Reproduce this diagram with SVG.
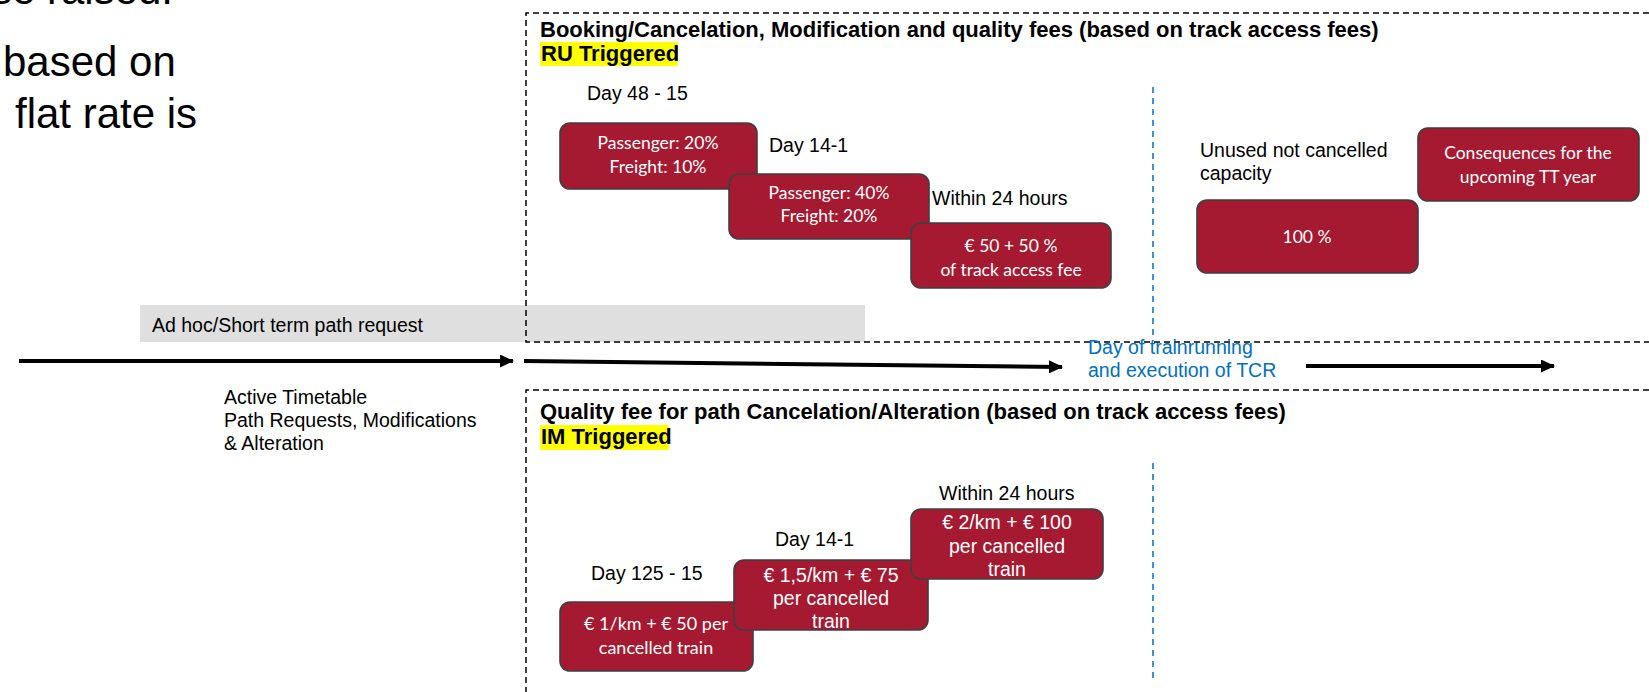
<svg xmlns="http://www.w3.org/2000/svg" width="1649" height="692" viewBox="0 0 1649 692">
<defs>
<style>
.bg{font-family:"Liberation Sans",Arial,sans-serif;fill:#000}
.big{font-size:42px}
.lbl{font-family:"Liberation Sans",Arial,sans-serif;font-size:19.5px;fill:#000}
.title{font-family:"Liberation Sans",Arial,sans-serif;font-size:22px;font-weight:bold;fill:#000}
.blue{font-family:"Liberation Sans",Arial,sans-serif;font-size:19.5px;fill:#0070C0}
.box{fill:#A51A31;stroke:#3F3F3F;stroke-width:1.6}
.wc{font-family:Lato,"Open Sans",sans-serif;font-size:17.5px;fill:#fff;text-anchor:middle}
.wa{font-family:"Liberation Sans",Arial,sans-serif;font-size:19.5px;fill:#fff;text-anchor:middle}
.dash{fill:none;stroke:#000;stroke-width:1.5;stroke-dasharray:6 4}
.bdash{fill:none;stroke:#0070C0;stroke-width:1.5;stroke-dasharray:6 5}
.arr{stroke:#000;stroke-width:4;fill:none;marker-end:url(#ah)}
.hl{fill:#FFFF00}
</style>
<marker id="ah" markerUnits="userSpaceOnUse" markerWidth="14" markerHeight="13" viewBox="0 0 14 13" refX="13" refY="6.5" orient="auto">
<path d="M0,0 L14,6.5 L0,13 z" fill="#000"/>
</marker>
</defs>

<g id="side-text">
<text class="bg big" x="173" y="3.5" text-anchor="end">se raised.</text>
<text class="bg big" x="3" y="76">based on</text>
<text class="bg big" x="15" y="128">flat rate is</text>
</g>

<g id="adhoc">
<rect x="140" y="305" width="725" height="37" fill="#DFDFDF"/>
<text class="lbl" x="152" y="332">Ad hoc/Short term path request</text>
</g>

<g id="ru-frame">
<path class="dash" d="M1649,13 H526 V342 H1649"/>
<path class="bdash" d="M1153,87 V341"/>
<text class="title" x="540" y="37">Booking/Cancelation, Modification and quality fees (based on track access fees)</text>
<rect class="hl" x="540" y="42" width="138" height="24"/>
<text class="title" x="541" y="61">RU Triggered</text>
</g>

<g id="im-frame">
<path class="dash" d="M1649,390 H526 V692"/>
<path class="bdash" d="M1153,463 V683"/>
<text class="title" x="540" y="419">Quality fee for path Cancelation/Alteration (based on track access fees)</text>
<rect class="hl" x="540" y="425" width="129" height="25"/>
<text class="title" x="541" y="444">IM Triggered</text>
</g>

<g id="connectors">
<line class="arr" x1="19" y1="361" x2="513" y2="361"/>
<line class="arr" x1="524" y1="361" x2="1062" y2="367"/>
<line class="arr" x1="1306" y1="366" x2="1554" y2="366"/>
</g>

<g id="timeline-labels">
<text class="lbl" x="224" y="404">Active Timetable</text>
<text class="lbl" x="224" y="427">Path Requests, Modifications</text>
<text class="lbl" x="224" y="450">&amp; Alteration</text>
<text class="blue" x="1088" y="354">Day of trainrunning</text>
<text class="blue" x="1088" y="377">and execution of TCR</text>
</g>

<g id="ru-day48">
<text class="lbl" x="587" y="100">Day 48 - 15</text>
<rect class="box" x="560" y="123" width="197" height="66" rx="10"/>
<text class="wc" x="658" y="149">Passenger: 20%</text>
<text class="wc" x="658" y="173">Freight: 10%</text>
</g>

<g id="ru-day14">
<text class="lbl" x="769" y="152">Day 14-1</text>
<rect class="box" x="729" y="174" width="200" height="65" rx="10"/>
<text class="wc" x="829" y="199">Passenger: 40%</text>
<text class="wc" x="829" y="222">Freight: 20%</text>
</g>

<g id="ru-24h">
<text class="lbl" x="932" y="205">Within 24 hours</text>
<rect class="box" x="911" y="223" width="200" height="65" rx="10"/>
<text class="wc" x="1011" y="252">€ 50 + 50 %</text>
<text class="wc" x="1011" y="276">of track access fee</text>
</g>

<g id="ru-unused">
<text class="lbl" x="1200" y="157">Unused not cancelled</text>
<text class="lbl" x="1200" y="180">capacity</text>
<rect class="box" x="1197" y="200" width="221" height="73" rx="10"/>
<text class="wc" x="1307" y="243">100 %</text>
</g>

<g id="ru-consequences">
<rect class="box" x="1418" y="128" width="221" height="73" rx="10"/>
<text class="wc" x="1528" y="159">Consequences for the</text>
<text class="wc" x="1528" y="183">upcoming TT year</text>
</g>

<g id="im-day125">
<text class="lbl" x="591" y="580">Day 125 - 15</text>
<rect class="box" x="560" y="602" width="193" height="69" rx="10"/>
<text class="wc" x="656" y="630" style="font-size:18px">€ 1/km + € 50 per</text>
<text class="wc" x="656" y="654" style="font-size:18px">cancelled train</text>
</g>

<g id="im-day14">
<text class="lbl" x="775" y="546">Day 14-1</text>
<rect class="box" x="734" y="560" width="194" height="70" rx="10"/>
<text class="wa" x="831" y="582">€ 1,5/km + € 75</text>
<text class="wa" x="831" y="605">per cancelled</text>
<text class="wa" x="831" y="628">train</text>
</g>

<g id="im-24h">
<text class="lbl" x="939" y="500">Within 24 hours</text>
<rect class="box" x="911" y="509" width="192" height="70" rx="10"/>
<text class="wa" x="1007" y="529">€ 2/km + € 100</text>
<text class="wa" x="1007" y="553">per cancelled</text>
<text class="wa" x="1007" y="576">train</text>
</g>
</svg>
